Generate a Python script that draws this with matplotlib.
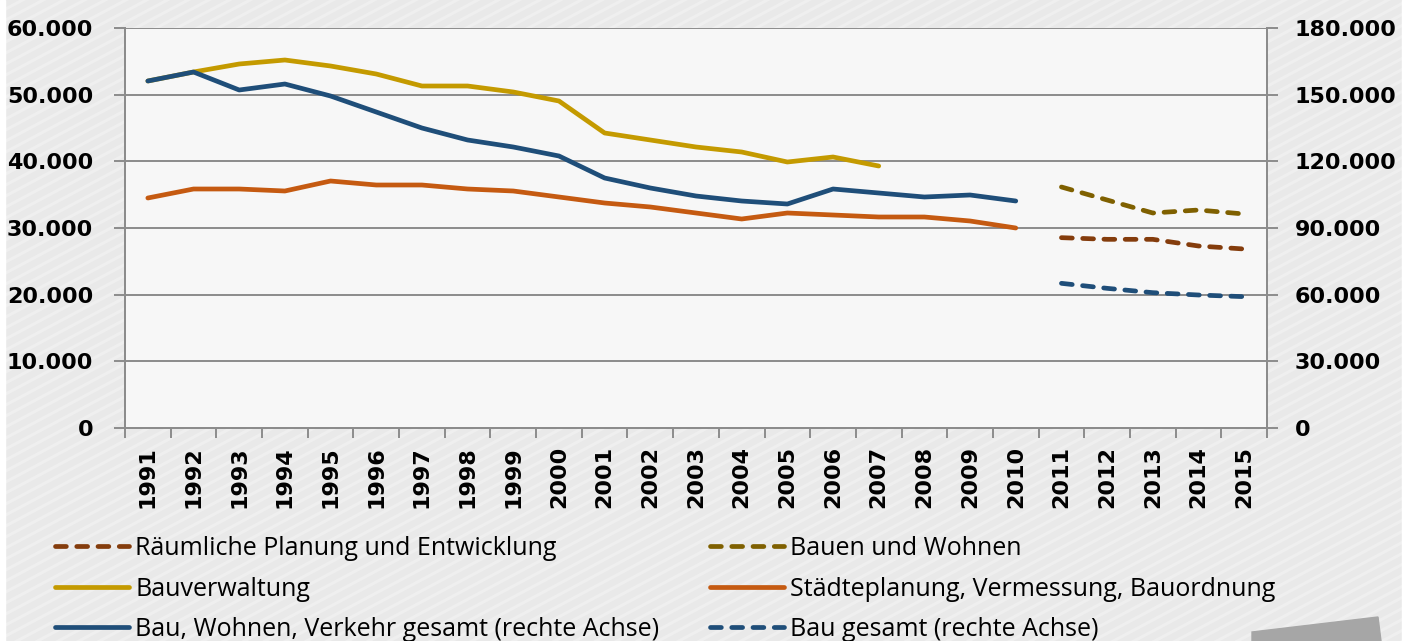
import numpy as np
import matplotlib.pyplot as plt
from matplotlib.patches import Polygon, Rectangle
from matplotlib.ticker import FuncFormatter, FixedLocator

# Data
years = [str(y) for y in range(1991, 2016)]

bauverwaltung = [52050, 53400, 54600, 55200, 54300, 53100, 51300, 51300, 50400, 49050,
                 44250, 43200, 42150, 41400, 39900, 40650, 39300]
staedteplanung = [34500, 35850, 35850, 35550, 37050, 36450, 36450, 35850, 35550, 34650,
                  33750, 33150, 32250, 31350, 32250, 31950, 31650, 31650, 31050, 30000]
bwv_gesamt = [156150, 160200, 152100, 154800, 149400, 142200, 135000, 129600, 126450, 122400,
              112500, 108000, 104400, 102150, 100800, 107550, 105750, 103950, 104850, 102150]

# forecast years 2011-2015
raeumliche = [28550, 28300, 28300, 27300, 26850]
bauen_wohnen = [36150, 34200, 32250, 32700, 32100]
bau_gesamt = [65100, 62850, 60900, 59850, 59100]

c_gold = '#c49a00'
c_orange = '#c55a11'
c_blue = '#1f4e79'
c_brown = '#843c0c'
c_olive = '#7f6000'

fig = plt.figure(figsize=(14.15, 6.41), dpi=100)
fig.patch.set_facecolor('#e9e9e9')

# striped background
bg = fig.add_axes([0, 0, 1, 1], zorder=-10)
bg.set_xlim(0, 1415)
bg.set_ylim(0, 641)
bg.axis('off')
slope = np.tan(np.radians(28))
for y0 in np.arange(-900, 700, 11):
    bg.plot([0, 1415], [y0, y0 + slope * 1415], color='white', lw=2.2, alpha=0.28, zorder=1)
bg.add_patch(Rectangle((0, 0), 5, 641, color='white', zorder=5))
bg.add_patch(Rectangle((1402, 0), 13, 641, color='white', zorder=5))
bg.add_patch(Polygon([(1252, 0), (1252, 9), (1378, 24), (1381, 0)], closed=True,
                     color='#a6a6a6', zorder=5))

ax = fig.add_axes([125 / 1415, 1 - 428 / 641, 1142 / 1415, 400 / 641])
ax.set_facecolor('#f7f7f7')
ax2 = ax.twinx()

x_all = np.arange(len(years))
x_fc = x_all[20:]

lw = 3.4
l_gold, = ax.plot(x_all[:len(bauverwaltung)], bauverwaltung, color=c_gold, lw=lw,
                  solid_capstyle='round', solid_joinstyle='round', zorder=3)
l_orange, = ax.plot(x_all[:len(staedteplanung)], staedteplanung, color=c_orange, lw=lw,
                    solid_capstyle='round', solid_joinstyle='round', zorder=3)
dash = (0, (2.3, 2.2))
l_brown, = ax.plot(x_fc, raeumliche, color=c_brown, lw=lw, ls=dash,
                   dash_capstyle='round', zorder=3)
l_olive, = ax.plot(x_fc, bauen_wohnen, color=c_olive, lw=lw, ls=dash,
                   dash_capstyle='round', zorder=3)
l_blue, = ax2.plot(x_all[:len(bwv_gesamt)], bwv_gesamt, color=c_blue, lw=lw,
                   solid_capstyle='round', solid_joinstyle='round', zorder=3)
l_blue_d, = ax2.plot(x_fc, bau_gesamt, color=c_blue, lw=lw, ls=dash,
                     dash_capstyle='round', zorder=3)

fmt = FuncFormatter(lambda v, p: f'{v:,.0f}'.replace(',', '.'))
grid_c = '#8c8c8c'

ax.set_xlim(-0.5, len(years) - 0.5)
ax.set_ylim(0, 60000)
ax2.set_ylim(0, 180000)
ax.set_yticks(np.arange(0, 60001, 10000))
ax2.set_yticks(np.arange(0, 180001, 30000))
ax.yaxis.set_major_formatter(fmt)
ax2.yaxis.set_major_formatter(fmt)
ax.grid(axis='y', color=grid_c, lw=1.4)
ax.set_axisbelow(True)

ax.set_xticks(x_all)
ax.set_xticklabels(years, rotation=90, fontsize=16, fontweight='bold')
ax.xaxis.set_minor_locator(FixedLocator(np.arange(-0.5, len(years), 1)))
ax.tick_params(axis='x', which='major', length=0, pad=13)
ax.tick_params(axis='x', which='minor', length=7, width=1.4, color=grid_c)

for a in (ax, ax2):
    for s in a.spines.values():
        s.set_color(grid_c)
        s.set_linewidth(1.4)
    a.spines['top'].set_visible(False)
ax.tick_params(axis='y', length=8, width=1.4, color=grid_c, labelsize=16, pad=15)
ax2.tick_params(axis='y', length=8, width=1.4, color=grid_c, labelsize=16, pad=12)
for t in ax.get_yticklabels() + ax2.get_yticklabels():
    t.set_fontweight('bold')

leg_kw = dict(loc='upper left', frameon=False, prop={'family': 'Open Sans', 'size': 18},
              handlelength=2.95, handletextpad=0.25, labelspacing=0.62,
              borderaxespad=0, borderpad=0)
leg1 = fig.legend([l_brown, l_gold, l_blue],
                  ['Räumliche Planung und Entwicklung', 'Bauverwaltung',
                   'Bau, Wohnen, Verkehr gesamt (rechte Achse)'],
                  bbox_to_anchor=(55 / 1415, 1 - 536 / 641), **leg_kw)
leg2 = fig.legend([l_olive, l_orange, l_blue_d],
                  ['Bauen und Wohnen', 'Städteplanung, Vermessung, Bauordnung',
                   'Bau gesamt (rechte Achse)'],
                  bbox_to_anchor=(710 / 1415, 1 - 536 / 641), **leg_kw)

fig.savefig('out.png', dpi=100, facecolor=fig.get_facecolor())
